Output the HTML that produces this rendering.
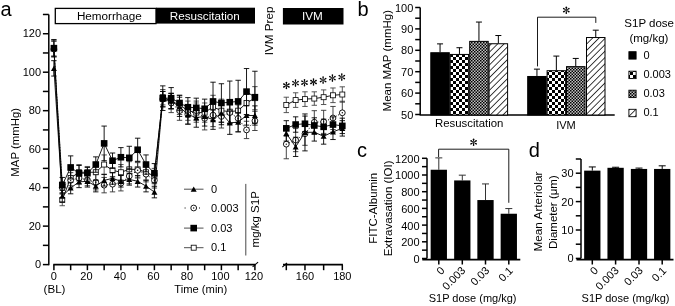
<!DOCTYPE html>
<html><head><meta charset="utf-8"><style>
html,body{margin:0;padding:0;background:#fff;width:675px;height:306px;overflow:hidden}
svg{display:block;font-family:"Liberation Sans", sans-serif;will-change:transform}
</style></head><body>
<svg width="675" height="306" viewBox="0 0 675 306">
<rect width="675" height="306" fill="#fff"/>
<text x="0.50" y="15.80" font-size="20" text-anchor="start" fill="#000" >a</text>
<text x="357.50" y="15.60" font-size="20" text-anchor="start" fill="#000" >b</text>
<text x="357.00" y="156.50" font-size="20" text-anchor="start" fill="#000" >c</text>
<text x="528.80" y="156.50" font-size="20" text-anchor="start" fill="#000" >d</text>
<line x1="48.80" y1="14.48" x2="48.80" y2="265.20" stroke="#000" stroke-width="1.5" />
<line x1="42.90" y1="264.60" x2="48.80" y2="264.60" stroke="#000" stroke-width="1.5" />
<text x="41.00" y="268.20" font-size="11" text-anchor="end" fill="#000" >0</text>
<line x1="42.90" y1="245.36" x2="48.80" y2="245.36" stroke="#000" stroke-width="1.5" />
<line x1="42.90" y1="226.12" x2="48.80" y2="226.12" stroke="#000" stroke-width="1.5" />
<text x="41.00" y="229.72" font-size="11" text-anchor="end" fill="#000" >20</text>
<line x1="42.90" y1="206.88" x2="48.80" y2="206.88" stroke="#000" stroke-width="1.5" />
<line x1="42.90" y1="187.64" x2="48.80" y2="187.64" stroke="#000" stroke-width="1.5" />
<text x="41.00" y="191.24" font-size="11" text-anchor="end" fill="#000" >40</text>
<line x1="42.90" y1="168.40" x2="48.80" y2="168.40" stroke="#000" stroke-width="1.5" />
<line x1="42.90" y1="149.16" x2="48.80" y2="149.16" stroke="#000" stroke-width="1.5" />
<text x="41.00" y="152.76" font-size="11" text-anchor="end" fill="#000" >60</text>
<line x1="42.90" y1="129.92" x2="48.80" y2="129.92" stroke="#000" stroke-width="1.5" />
<line x1="42.90" y1="110.68" x2="48.80" y2="110.68" stroke="#000" stroke-width="1.5" />
<text x="41.00" y="114.28" font-size="11" text-anchor="end" fill="#000" >80</text>
<line x1="42.90" y1="91.44" x2="48.80" y2="91.44" stroke="#000" stroke-width="1.5" />
<line x1="42.90" y1="72.20" x2="48.80" y2="72.20" stroke="#000" stroke-width="1.5" />
<text x="41.00" y="75.80" font-size="11" text-anchor="end" fill="#000" >100</text>
<line x1="42.90" y1="52.96" x2="48.80" y2="52.96" stroke="#000" stroke-width="1.5" />
<line x1="42.90" y1="33.72" x2="48.80" y2="33.72" stroke="#000" stroke-width="1.5" />
<text x="41.00" y="37.32" font-size="11" text-anchor="end" fill="#000" >120</text>
<line x1="42.90" y1="14.48" x2="48.80" y2="14.48" stroke="#000" stroke-width="1.5" />
<text transform="translate(18.6,142.3) rotate(-90)" font-size="11.4" text-anchor="middle">MAP (mmHg)</text>
<line x1="53.30" y1="264.60" x2="255.40" y2="264.60" stroke="#000" stroke-width="1.7" />
<line x1="53.90" y1="264.60" x2="53.90" y2="270.20" stroke="#000" stroke-width="1.5" />
<text x="53.90" y="280.20" font-size="11" text-anchor="middle" fill="#000" >0</text>
<line x1="70.65" y1="264.60" x2="70.65" y2="270.20" stroke="#000" stroke-width="1.5" />
<line x1="87.40" y1="264.60" x2="87.40" y2="270.20" stroke="#000" stroke-width="1.5" />
<text x="86.40" y="280.20" font-size="11" text-anchor="middle" fill="#000" >20</text>
<line x1="104.15" y1="264.60" x2="104.15" y2="270.20" stroke="#000" stroke-width="1.5" />
<line x1="120.90" y1="264.60" x2="120.90" y2="270.20" stroke="#000" stroke-width="1.5" />
<text x="119.90" y="280.20" font-size="11" text-anchor="middle" fill="#000" >40</text>
<line x1="137.65" y1="264.60" x2="137.65" y2="270.20" stroke="#000" stroke-width="1.5" />
<line x1="154.40" y1="264.60" x2="154.40" y2="270.20" stroke="#000" stroke-width="1.5" />
<text x="153.40" y="280.20" font-size="11" text-anchor="middle" fill="#000" >60</text>
<line x1="171.15" y1="264.60" x2="171.15" y2="270.20" stroke="#000" stroke-width="1.5" />
<line x1="187.90" y1="264.60" x2="187.90" y2="270.20" stroke="#000" stroke-width="1.5" />
<text x="186.90" y="280.20" font-size="11" text-anchor="middle" fill="#000" >80</text>
<line x1="204.65" y1="264.60" x2="204.65" y2="270.20" stroke="#000" stroke-width="1.5" />
<line x1="221.40" y1="264.60" x2="221.40" y2="270.20" stroke="#000" stroke-width="1.5" />
<text x="220.40" y="280.20" font-size="11" text-anchor="middle" fill="#000" >100</text>
<line x1="238.15" y1="264.60" x2="238.15" y2="270.20" stroke="#000" stroke-width="1.5" />
<line x1="254.90" y1="264.60" x2="254.90" y2="270.20" stroke="#000" stroke-width="1.5" />
<text x="253.90" y="280.20" font-size="11" text-anchor="middle" fill="#000" >120</text>
<line x1="252.60" y1="266.80" x2="258.10" y2="262.20" stroke="#000" stroke-width="1.1" />
<text x="54.50" y="292.90" font-size="11.6" text-anchor="middle" fill="#000" >(BL)</text>
<text x="200.80" y="292.60" font-size="11.2" text-anchor="middle" fill="#000" >Time (min)</text>
<line x1="283.00" y1="264.60" x2="342.91" y2="264.60" stroke="#000" stroke-width="1.7" />
<line x1="286.30" y1="264.60" x2="286.30" y2="270.20" stroke="#000" stroke-width="1.5" />
<line x1="304.97" y1="264.60" x2="304.97" y2="270.20" stroke="#000" stroke-width="1.5" />
<line x1="323.64" y1="264.60" x2="323.64" y2="270.20" stroke="#000" stroke-width="1.5" />
<line x1="342.31" y1="264.60" x2="342.31" y2="270.20" stroke="#000" stroke-width="1.5" />
<text x="304.97" y="280.20" font-size="11" text-anchor="middle" fill="#000" >160</text>
<text x="342.31" y="280.20" font-size="11" text-anchor="middle" fill="#000" >180</text>
<line x1="282.30" y1="267.20" x2="287.00" y2="263.00" stroke="#000" stroke-width="1.1" />
<rect x="55.30" y="8.40" width="100.70" height="15.20" fill="#fff" stroke="#000" stroke-width="1.3" />
<text x="109.40" y="20.00" font-size="11.7" text-anchor="middle" fill="#000" >Hemorrhage</text>
<rect x="156.00" y="7.70" width="99.00" height="15.90" fill="#000" stroke="none" stroke-width="0" />
<text x="204.80" y="19.60" font-size="11.7" text-anchor="middle" fill="#fff" >Resuscitation</text>
<rect x="282.90" y="8.00" width="60.60" height="16.50" fill="#000" stroke="none" stroke-width="0" />
<text x="312.40" y="20.40" font-size="11.7" text-anchor="middle" fill="#fff" >IVM</text>
<text transform="translate(273.3,30.9) rotate(-90)" font-size="11.7" text-anchor="middle">IVM Prep</text>
<polyline points="53.90,48.15 62.27,199.95 70.65,178.02 79.03,172.25 87.40,172.25 95.78,172.25 104.15,164.55 112.53,170.32 120.90,172.25 129.28,169.36 137.65,169.36 146.03,172.25 154.40,176.10 162.78,97.21 171.15,101.06 179.53,104.91 187.90,110.68 196.28,112.60 204.65,112.60 213.03,106.83 221.40,110.68 229.78,111.64 238.15,110.68 246.53,102.98 254.90,98.17" fill="none" stroke="#000" stroke-width="0.9" />
<polyline points="286.30,104.91 295.63,100.10 304.97,99.14 314.31,98.56 323.64,97.21 332.98,95.29 342.31,94.52" fill="none" stroke="#000" stroke-width="0.9" />
<path d="M53.90,40.45V55.85M51.20,40.45h5.4M51.20,55.85h5.4" stroke="#444" stroke-width="0.9" fill="none"/>
<path d="M62.27,194.18V205.73M59.57,194.18h5.4M59.57,205.73h5.4" stroke="#444" stroke-width="0.9" fill="none"/>
<path d="M70.65,170.32V185.72M67.95,170.32h5.4M67.95,185.72h5.4" stroke="#444" stroke-width="0.9" fill="none"/>
<path d="M79.03,164.55V179.94M76.33,164.55h5.4M76.33,179.94h5.4" stroke="#444" stroke-width="0.9" fill="none"/>
<path d="M87.40,166.48V178.02M84.70,166.48h5.4M84.70,178.02h5.4" stroke="#444" stroke-width="0.9" fill="none"/>
<path d="M95.78,164.55V179.94M93.08,164.55h5.4M93.08,179.94h5.4" stroke="#444" stroke-width="0.9" fill="none"/>
<path d="M104.15,154.93V174.17M101.45,154.93h5.4M101.45,174.17h5.4" stroke="#444" stroke-width="0.9" fill="none"/>
<path d="M112.53,162.63V178.02M109.83,162.63h5.4M109.83,178.02h5.4" stroke="#444" stroke-width="0.9" fill="none"/>
<path d="M120.90,164.55V179.94M118.20,164.55h5.4M118.20,179.94h5.4" stroke="#444" stroke-width="0.9" fill="none"/>
<path d="M129.28,161.67V177.06M126.58,161.67h5.4M126.58,177.06h5.4" stroke="#444" stroke-width="0.9" fill="none"/>
<path d="M137.65,161.67V177.06M134.95,161.67h5.4M134.95,177.06h5.4" stroke="#444" stroke-width="0.9" fill="none"/>
<path d="M146.03,164.55V179.94M143.33,164.55h5.4M143.33,179.94h5.4" stroke="#444" stroke-width="0.9" fill="none"/>
<path d="M154.40,168.40V183.79M151.70,168.40h5.4M151.70,183.79h5.4" stroke="#444" stroke-width="0.9" fill="none"/>
<path d="M162.78,89.52V104.91M160.08,89.52h5.4M160.08,104.91h5.4" stroke="#444" stroke-width="0.9" fill="none"/>
<path d="M171.15,93.36V108.76M168.45,93.36h5.4M168.45,108.76h5.4" stroke="#444" stroke-width="0.9" fill="none"/>
<path d="M179.53,95.29V114.53M176.83,95.29h5.4M176.83,114.53h5.4" stroke="#444" stroke-width="0.9" fill="none"/>
<path d="M187.90,101.06V120.30M185.20,101.06h5.4M185.20,120.30h5.4" stroke="#444" stroke-width="0.9" fill="none"/>
<path d="M196.28,102.98V122.22M193.58,102.98h5.4M193.58,122.22h5.4" stroke="#444" stroke-width="0.9" fill="none"/>
<path d="M204.65,102.98V122.22M201.95,102.98h5.4M201.95,122.22h5.4" stroke="#444" stroke-width="0.9" fill="none"/>
<path d="M213.03,95.29V118.38M210.33,95.29h5.4M210.33,118.38h5.4" stroke="#444" stroke-width="0.9" fill="none"/>
<path d="M221.40,99.14V122.22M218.70,99.14h5.4M218.70,122.22h5.4" stroke="#444" stroke-width="0.9" fill="none"/>
<path d="M229.78,100.10V123.19M227.08,100.10h5.4M227.08,123.19h5.4" stroke="#444" stroke-width="0.9" fill="none"/>
<path d="M238.15,99.14V122.22M235.45,99.14h5.4M235.45,122.22h5.4" stroke="#444" stroke-width="0.9" fill="none"/>
<path d="M246.53,91.44V114.53M243.83,91.44h5.4M243.83,114.53h5.4" stroke="#444" stroke-width="0.9" fill="none"/>
<path d="M254.90,86.63V109.72M252.20,86.63h5.4M252.20,109.72h5.4" stroke="#444" stroke-width="0.9" fill="none"/>
<path d="M286.30,97.21V112.60M283.60,97.21h5.4M283.60,112.60h5.4" stroke="#444" stroke-width="0.9" fill="none"/>
<path d="M295.63,92.79V107.41M292.94,92.79h5.4M292.94,107.41h5.4" stroke="#444" stroke-width="0.9" fill="none"/>
<path d="M304.97,91.82V106.45M302.27,91.82h5.4M302.27,106.45h5.4" stroke="#444" stroke-width="0.9" fill="none"/>
<path d="M314.31,91.82V105.29M311.61,91.82h5.4M311.61,105.29h5.4" stroke="#444" stroke-width="0.9" fill="none"/>
<path d="M323.64,89.90V104.52M320.94,89.90h5.4M320.94,104.52h5.4" stroke="#444" stroke-width="0.9" fill="none"/>
<path d="M332.98,87.98V102.60M330.28,87.98h5.4M330.28,102.60h5.4" stroke="#444" stroke-width="0.9" fill="none"/>
<path d="M342.31,86.82V102.21M339.61,86.82h5.4M339.61,102.21h5.4" stroke="#444" stroke-width="0.9" fill="none"/>
<rect x="51.40" y="45.65" width="5.0" height="5.0" fill="#fff" stroke="#000" stroke-width="0.8"/>
<rect x="59.77" y="197.45" width="5.0" height="5.0" fill="#fff" stroke="#000" stroke-width="0.8"/>
<rect x="68.15" y="175.52" width="5.0" height="5.0" fill="#fff" stroke="#000" stroke-width="0.8"/>
<rect x="76.53" y="169.75" width="5.0" height="5.0" fill="#fff" stroke="#000" stroke-width="0.8"/>
<rect x="84.90" y="169.75" width="5.0" height="5.0" fill="#fff" stroke="#000" stroke-width="0.8"/>
<rect x="93.28" y="169.75" width="5.0" height="5.0" fill="#fff" stroke="#000" stroke-width="0.8"/>
<rect x="101.65" y="162.05" width="5.0" height="5.0" fill="#fff" stroke="#000" stroke-width="0.8"/>
<rect x="110.03" y="167.82" width="5.0" height="5.0" fill="#fff" stroke="#000" stroke-width="0.8"/>
<rect x="118.40" y="169.75" width="5.0" height="5.0" fill="#fff" stroke="#000" stroke-width="0.8"/>
<rect x="126.78" y="166.86" width="5.0" height="5.0" fill="#fff" stroke="#000" stroke-width="0.8"/>
<rect x="135.15" y="166.86" width="5.0" height="5.0" fill="#fff" stroke="#000" stroke-width="0.8"/>
<rect x="143.53" y="169.75" width="5.0" height="5.0" fill="#fff" stroke="#000" stroke-width="0.8"/>
<rect x="151.90" y="173.60" width="5.0" height="5.0" fill="#fff" stroke="#000" stroke-width="0.8"/>
<rect x="160.28" y="94.71" width="5.0" height="5.0" fill="#fff" stroke="#000" stroke-width="0.8"/>
<rect x="168.65" y="98.56" width="5.0" height="5.0" fill="#fff" stroke="#000" stroke-width="0.8"/>
<rect x="177.03" y="102.41" width="5.0" height="5.0" fill="#fff" stroke="#000" stroke-width="0.8"/>
<rect x="185.40" y="108.18" width="5.0" height="5.0" fill="#fff" stroke="#000" stroke-width="0.8"/>
<rect x="193.78" y="110.10" width="5.0" height="5.0" fill="#fff" stroke="#000" stroke-width="0.8"/>
<rect x="202.15" y="110.10" width="5.0" height="5.0" fill="#fff" stroke="#000" stroke-width="0.8"/>
<rect x="210.53" y="104.33" width="5.0" height="5.0" fill="#fff" stroke="#000" stroke-width="0.8"/>
<rect x="218.90" y="108.18" width="5.0" height="5.0" fill="#fff" stroke="#000" stroke-width="0.8"/>
<rect x="227.28" y="109.14" width="5.0" height="5.0" fill="#fff" stroke="#000" stroke-width="0.8"/>
<rect x="235.65" y="108.18" width="5.0" height="5.0" fill="#fff" stroke="#000" stroke-width="0.8"/>
<rect x="244.03" y="100.48" width="5.0" height="5.0" fill="#fff" stroke="#000" stroke-width="0.8"/>
<rect x="252.40" y="95.67" width="5.0" height="5.0" fill="#fff" stroke="#000" stroke-width="0.8"/>
<rect x="283.80" y="102.41" width="5.0" height="5.0" fill="#fff" stroke="#000" stroke-width="0.8"/>
<rect x="293.13" y="97.60" width="5.0" height="5.0" fill="#fff" stroke="#000" stroke-width="0.8"/>
<rect x="302.47" y="96.64" width="5.0" height="5.0" fill="#fff" stroke="#000" stroke-width="0.8"/>
<rect x="311.81" y="96.06" width="5.0" height="5.0" fill="#fff" stroke="#000" stroke-width="0.8"/>
<rect x="321.14" y="94.71" width="5.0" height="5.0" fill="#fff" stroke="#000" stroke-width="0.8"/>
<rect x="330.48" y="92.79" width="5.0" height="5.0" fill="#fff" stroke="#000" stroke-width="0.8"/>
<rect x="339.81" y="92.02" width="5.0" height="5.0" fill="#fff" stroke="#000" stroke-width="0.8"/>
<polyline points="53.90,49.11 62.27,187.64 70.65,180.33 79.03,178.02 87.40,179.94 95.78,182.25 104.15,185.14 112.53,184.18 120.90,183.21 129.28,176.10 137.65,170.32 146.03,174.17 154.40,180.33 162.78,99.14 171.15,102.98 179.53,110.68 187.90,114.53 196.28,110.68 204.65,118.38 213.03,115.11 221.40,116.45 229.78,112.60 238.15,118.38 246.53,129.92 254.90,120.88" fill="none" stroke="#000" stroke-width="0.9" stroke-dasharray="1.2,1.6"/>
<polyline points="286.30,144.16 295.63,140.12 304.97,133.77 314.31,122.22 323.64,121.84 332.98,117.99 342.31,112.80" fill="none" stroke="#000" stroke-width="0.9" stroke-dasharray="1.2,1.6"/>
<path d="M53.90,41.42V56.81M51.20,41.42h5.4M51.20,56.81h5.4" stroke="#333" stroke-width="0.9" fill="none"/>
<path d="M62.27,181.87V193.41M59.57,181.87h5.4M59.57,193.41h5.4" stroke="#333" stroke-width="0.9" fill="none"/>
<path d="M70.65,172.63V188.02M67.95,172.63h5.4M67.95,188.02h5.4" stroke="#333" stroke-width="0.9" fill="none"/>
<path d="M79.03,172.25V183.79M76.33,172.25h5.4M76.33,183.79h5.4" stroke="#333" stroke-width="0.9" fill="none"/>
<path d="M87.40,174.17V185.72M84.70,174.17h5.4M84.70,185.72h5.4" stroke="#333" stroke-width="0.9" fill="none"/>
<path d="M95.78,174.56V189.95M93.08,174.56h5.4M93.08,189.95h5.4" stroke="#333" stroke-width="0.9" fill="none"/>
<path d="M104.15,177.44V192.83M101.45,177.44h5.4M101.45,192.83h5.4" stroke="#333" stroke-width="0.9" fill="none"/>
<path d="M112.53,176.48V191.87M109.83,176.48h5.4M109.83,191.87h5.4" stroke="#333" stroke-width="0.9" fill="none"/>
<path d="M120.90,175.52V190.91M118.20,175.52h5.4M118.20,190.91h5.4" stroke="#333" stroke-width="0.9" fill="none"/>
<path d="M129.28,168.40V183.79M126.58,168.40h5.4M126.58,183.79h5.4" stroke="#333" stroke-width="0.9" fill="none"/>
<path d="M137.65,162.63V178.02M134.95,162.63h5.4M134.95,178.02h5.4" stroke="#333" stroke-width="0.9" fill="none"/>
<path d="M146.03,166.48V181.87M143.33,166.48h5.4M143.33,181.87h5.4" stroke="#333" stroke-width="0.9" fill="none"/>
<path d="M154.40,172.63V188.02M151.70,172.63h5.4M151.70,188.02h5.4" stroke="#333" stroke-width="0.9" fill="none"/>
<path d="M162.78,91.44V106.83M160.08,91.44h5.4M160.08,106.83h5.4" stroke="#333" stroke-width="0.9" fill="none"/>
<path d="M171.15,93.36V112.60M168.45,93.36h5.4M168.45,112.60h5.4" stroke="#333" stroke-width="0.9" fill="none"/>
<path d="M179.53,101.06V120.30M176.83,101.06h5.4M176.83,120.30h5.4" stroke="#333" stroke-width="0.9" fill="none"/>
<path d="M187.90,104.91V124.15M185.20,104.91h5.4M185.20,124.15h5.4" stroke="#333" stroke-width="0.9" fill="none"/>
<path d="M196.28,101.06V120.30M193.58,101.06h5.4M193.58,120.30h5.4" stroke="#333" stroke-width="0.9" fill="none"/>
<path d="M204.65,106.83V129.92M201.95,106.83h5.4M201.95,129.92h5.4" stroke="#333" stroke-width="0.9" fill="none"/>
<path d="M213.03,103.56V126.65M210.33,103.56h5.4M210.33,126.65h5.4" stroke="#333" stroke-width="0.9" fill="none"/>
<path d="M221.40,104.91V128.00M218.70,104.91h5.4M218.70,128.00h5.4" stroke="#333" stroke-width="0.9" fill="none"/>
<path d="M229.78,101.06V124.15M227.08,101.06h5.4M227.08,124.15h5.4" stroke="#333" stroke-width="0.9" fill="none"/>
<path d="M238.15,104.91V131.84M235.45,104.91h5.4M235.45,131.84h5.4" stroke="#333" stroke-width="0.9" fill="none"/>
<path d="M246.53,121.26V138.58M243.83,121.26h5.4M243.83,138.58h5.4" stroke="#333" stroke-width="0.9" fill="none"/>
<path d="M254.90,111.26V130.50M252.20,111.26h5.4M252.20,130.50h5.4" stroke="#333" stroke-width="0.9" fill="none"/>
<path d="M286.30,129.54V158.78M283.60,129.54h5.4M283.60,158.78h5.4" stroke="#333" stroke-width="0.9" fill="none"/>
<path d="M295.63,128.57V151.66M292.94,128.57h5.4M292.94,151.66h5.4" stroke="#333" stroke-width="0.9" fill="none"/>
<path d="M304.97,122.22V145.31M302.27,122.22h5.4M302.27,145.31h5.4" stroke="#333" stroke-width="0.9" fill="none"/>
<path d="M314.31,110.68V133.77M311.61,110.68h5.4M311.61,133.77h5.4" stroke="#333" stroke-width="0.9" fill="none"/>
<path d="M323.64,110.30V133.38M320.94,110.30h5.4M320.94,133.38h5.4" stroke="#333" stroke-width="0.9" fill="none"/>
<path d="M332.98,106.45V129.54M330.28,106.45h5.4M330.28,129.54h5.4" stroke="#333" stroke-width="0.9" fill="none"/>
<path d="M342.31,101.25V124.34M339.61,101.25h5.4M339.61,124.34h5.4" stroke="#333" stroke-width="0.9" fill="none"/>
<circle cx="53.90" cy="49.11" r="2.9" fill="#fff" stroke="#000" stroke-width="0.9"/><circle cx="53.90" cy="49.11" r="0.7" fill="#000"/>
<circle cx="62.27" cy="187.64" r="2.9" fill="#fff" stroke="#000" stroke-width="0.9"/><circle cx="62.27" cy="187.64" r="0.7" fill="#000"/>
<circle cx="70.65" cy="180.33" r="2.9" fill="#fff" stroke="#000" stroke-width="0.9"/><circle cx="70.65" cy="180.33" r="0.7" fill="#000"/>
<circle cx="79.03" cy="178.02" r="2.9" fill="#fff" stroke="#000" stroke-width="0.9"/><circle cx="79.03" cy="178.02" r="0.7" fill="#000"/>
<circle cx="87.40" cy="179.94" r="2.9" fill="#fff" stroke="#000" stroke-width="0.9"/><circle cx="87.40" cy="179.94" r="0.7" fill="#000"/>
<circle cx="95.78" cy="182.25" r="2.9" fill="#fff" stroke="#000" stroke-width="0.9"/><circle cx="95.78" cy="182.25" r="0.7" fill="#000"/>
<circle cx="104.15" cy="185.14" r="2.9" fill="#fff" stroke="#000" stroke-width="0.9"/><circle cx="104.15" cy="185.14" r="0.7" fill="#000"/>
<circle cx="112.53" cy="184.18" r="2.9" fill="#fff" stroke="#000" stroke-width="0.9"/><circle cx="112.53" cy="184.18" r="0.7" fill="#000"/>
<circle cx="120.90" cy="183.21" r="2.9" fill="#fff" stroke="#000" stroke-width="0.9"/><circle cx="120.90" cy="183.21" r="0.7" fill="#000"/>
<circle cx="129.28" cy="176.10" r="2.9" fill="#fff" stroke="#000" stroke-width="0.9"/><circle cx="129.28" cy="176.10" r="0.7" fill="#000"/>
<circle cx="137.65" cy="170.32" r="2.9" fill="#fff" stroke="#000" stroke-width="0.9"/><circle cx="137.65" cy="170.32" r="0.7" fill="#000"/>
<circle cx="146.03" cy="174.17" r="2.9" fill="#fff" stroke="#000" stroke-width="0.9"/><circle cx="146.03" cy="174.17" r="0.7" fill="#000"/>
<circle cx="154.40" cy="180.33" r="2.9" fill="#fff" stroke="#000" stroke-width="0.9"/><circle cx="154.40" cy="180.33" r="0.7" fill="#000"/>
<circle cx="162.78" cy="99.14" r="2.9" fill="#fff" stroke="#000" stroke-width="0.9"/><circle cx="162.78" cy="99.14" r="0.7" fill="#000"/>
<circle cx="171.15" cy="102.98" r="2.9" fill="#fff" stroke="#000" stroke-width="0.9"/><circle cx="171.15" cy="102.98" r="0.7" fill="#000"/>
<circle cx="179.53" cy="110.68" r="2.9" fill="#fff" stroke="#000" stroke-width="0.9"/><circle cx="179.53" cy="110.68" r="0.7" fill="#000"/>
<circle cx="187.90" cy="114.53" r="2.9" fill="#fff" stroke="#000" stroke-width="0.9"/><circle cx="187.90" cy="114.53" r="0.7" fill="#000"/>
<circle cx="196.28" cy="110.68" r="2.9" fill="#fff" stroke="#000" stroke-width="0.9"/><circle cx="196.28" cy="110.68" r="0.7" fill="#000"/>
<circle cx="204.65" cy="118.38" r="2.9" fill="#fff" stroke="#000" stroke-width="0.9"/><circle cx="204.65" cy="118.38" r="0.7" fill="#000"/>
<circle cx="213.03" cy="115.11" r="2.9" fill="#fff" stroke="#000" stroke-width="0.9"/><circle cx="213.03" cy="115.11" r="0.7" fill="#000"/>
<circle cx="221.40" cy="116.45" r="2.9" fill="#fff" stroke="#000" stroke-width="0.9"/><circle cx="221.40" cy="116.45" r="0.7" fill="#000"/>
<circle cx="229.78" cy="112.60" r="2.9" fill="#fff" stroke="#000" stroke-width="0.9"/><circle cx="229.78" cy="112.60" r="0.7" fill="#000"/>
<circle cx="238.15" cy="118.38" r="2.9" fill="#fff" stroke="#000" stroke-width="0.9"/><circle cx="238.15" cy="118.38" r="0.7" fill="#000"/>
<circle cx="246.53" cy="129.92" r="2.9" fill="#fff" stroke="#000" stroke-width="0.9"/><circle cx="246.53" cy="129.92" r="0.7" fill="#000"/>
<circle cx="254.90" cy="120.88" r="2.9" fill="#fff" stroke="#000" stroke-width="0.9"/><circle cx="254.90" cy="120.88" r="0.7" fill="#000"/>
<circle cx="286.30" cy="144.16" r="2.9" fill="#fff" stroke="#000" stroke-width="0.9"/><circle cx="286.30" cy="144.16" r="0.7" fill="#000"/>
<circle cx="295.63" cy="140.12" r="2.9" fill="#fff" stroke="#000" stroke-width="0.9"/><circle cx="295.63" cy="140.12" r="0.7" fill="#000"/>
<circle cx="304.97" cy="133.77" r="2.9" fill="#fff" stroke="#000" stroke-width="0.9"/><circle cx="304.97" cy="133.77" r="0.7" fill="#000"/>
<circle cx="314.31" cy="122.22" r="2.9" fill="#fff" stroke="#000" stroke-width="0.9"/><circle cx="314.31" cy="122.22" r="0.7" fill="#000"/>
<circle cx="323.64" cy="121.84" r="2.9" fill="#fff" stroke="#000" stroke-width="0.9"/><circle cx="323.64" cy="121.84" r="0.7" fill="#000"/>
<circle cx="332.98" cy="117.99" r="2.9" fill="#fff" stroke="#000" stroke-width="0.9"/><circle cx="332.98" cy="117.99" r="0.7" fill="#000"/>
<circle cx="342.31" cy="112.80" r="2.9" fill="#fff" stroke="#000" stroke-width="0.9"/><circle cx="342.31" cy="112.80" r="0.7" fill="#000"/>
<polyline points="53.90,68.35 62.27,196.11 70.65,188.02 79.03,181.87 87.40,181.29 95.78,186.10 104.15,180.33 112.53,178.40 120.90,181.29 129.28,179.37 137.65,181.29 146.03,186.10 154.40,192.07 162.78,99.14 171.15,101.06 179.53,106.83 187.90,114.53 196.28,117.61 204.65,116.45 213.03,119.72 221.40,113.18 229.78,122.80 238.15,122.22 246.53,115.49 254.90,115.49" fill="none" stroke="#000" stroke-width="0.9" />
<polyline points="286.30,133.38 295.63,146.85 304.97,132.42 314.31,132.23 323.64,136.27 332.98,131.84 342.31,128.38" fill="none" stroke="#000" stroke-width="0.9" />
<path d="M53.90,60.66V76.05M51.20,60.66h5.4M51.20,76.05h5.4" stroke="#000" stroke-width="0.9" fill="none"/>
<path d="M62.27,190.33V201.88M59.57,190.33h5.4M59.57,201.88h5.4" stroke="#000" stroke-width="0.9" fill="none"/>
<path d="M70.65,182.25V193.80M67.95,182.25h5.4M67.95,193.80h5.4" stroke="#000" stroke-width="0.9" fill="none"/>
<path d="M79.03,176.10V187.64M76.33,176.10h5.4M76.33,187.64h5.4" stroke="#000" stroke-width="0.9" fill="none"/>
<path d="M87.40,175.52V187.06M84.70,175.52h5.4M84.70,187.06h5.4" stroke="#000" stroke-width="0.9" fill="none"/>
<path d="M95.78,180.33V191.87M93.08,180.33h5.4M93.08,191.87h5.4" stroke="#000" stroke-width="0.9" fill="none"/>
<path d="M104.15,174.56V186.10M101.45,174.56h5.4M101.45,186.10h5.4" stroke="#000" stroke-width="0.9" fill="none"/>
<path d="M112.53,172.63V184.18M109.83,172.63h5.4M109.83,184.18h5.4" stroke="#000" stroke-width="0.9" fill="none"/>
<path d="M120.90,175.52V187.06M118.20,175.52h5.4M118.20,187.06h5.4" stroke="#000" stroke-width="0.9" fill="none"/>
<path d="M129.28,173.59V185.14M126.58,173.59h5.4M126.58,185.14h5.4" stroke="#000" stroke-width="0.9" fill="none"/>
<path d="M137.65,175.52V187.06M134.95,175.52h5.4M134.95,187.06h5.4" stroke="#000" stroke-width="0.9" fill="none"/>
<path d="M146.03,180.33V191.87M143.33,180.33h5.4M143.33,191.87h5.4" stroke="#000" stroke-width="0.9" fill="none"/>
<path d="M154.40,186.29V197.84M151.70,186.29h5.4M151.70,197.84h5.4" stroke="#000" stroke-width="0.9" fill="none"/>
<path d="M162.78,91.44V106.83M160.08,91.44h5.4M160.08,106.83h5.4" stroke="#000" stroke-width="0.9" fill="none"/>
<path d="M171.15,93.36V108.76M168.45,93.36h5.4M168.45,108.76h5.4" stroke="#000" stroke-width="0.9" fill="none"/>
<path d="M179.53,97.21V116.45M176.83,97.21h5.4M176.83,116.45h5.4" stroke="#000" stroke-width="0.9" fill="none"/>
<path d="M187.90,104.91V124.15M185.20,104.91h5.4M185.20,124.15h5.4" stroke="#000" stroke-width="0.9" fill="none"/>
<path d="M196.28,107.99V127.23M193.58,107.99h5.4M193.58,127.23h5.4" stroke="#000" stroke-width="0.9" fill="none"/>
<path d="M204.65,106.83V126.07M201.95,106.83h5.4M201.95,126.07h5.4" stroke="#000" stroke-width="0.9" fill="none"/>
<path d="M213.03,110.10V129.34M210.33,110.10h5.4M210.33,129.34h5.4" stroke="#000" stroke-width="0.9" fill="none"/>
<path d="M221.40,101.64V124.73M218.70,101.64h5.4M218.70,124.73h5.4" stroke="#000" stroke-width="0.9" fill="none"/>
<path d="M229.78,111.26V134.35M227.08,111.26h5.4M227.08,134.35h5.4" stroke="#000" stroke-width="0.9" fill="none"/>
<path d="M238.15,112.60V131.84M235.45,112.60h5.4M235.45,131.84h5.4" stroke="#000" stroke-width="0.9" fill="none"/>
<path d="M246.53,105.87V125.11M243.83,105.87h5.4M243.83,125.11h5.4" stroke="#000" stroke-width="0.9" fill="none"/>
<path d="M254.90,105.87V125.11M252.20,105.87h5.4M252.20,125.11h5.4" stroke="#000" stroke-width="0.9" fill="none"/>
<path d="M286.30,125.69V141.08M283.60,125.69h5.4M283.60,141.08h5.4" stroke="#000" stroke-width="0.9" fill="none"/>
<path d="M295.63,137.23V156.47M292.94,137.23h5.4M292.94,156.47h5.4" stroke="#000" stroke-width="0.9" fill="none"/>
<path d="M304.97,113.95V150.89M302.27,113.95h5.4M302.27,150.89h5.4" stroke="#000" stroke-width="0.9" fill="none"/>
<path d="M314.31,123.38V141.08M311.61,123.38h5.4M311.61,141.08h5.4" stroke="#000" stroke-width="0.9" fill="none"/>
<path d="M323.64,128.38V144.16M320.94,128.38h5.4M320.94,144.16h5.4" stroke="#000" stroke-width="0.9" fill="none"/>
<path d="M332.98,124.15V139.54M330.28,124.15h5.4M330.28,139.54h5.4" stroke="#000" stroke-width="0.9" fill="none"/>
<path d="M342.31,120.68V136.08M339.61,120.68h5.4M339.61,136.08h5.4" stroke="#000" stroke-width="0.9" fill="none"/>
<path d="M53.90,65.65L56.90,70.95H50.90Z" fill="#000"/>
<path d="M62.27,193.41L65.28,198.71H59.27Z" fill="#000"/>
<path d="M70.65,185.32L73.65,190.62H67.65Z" fill="#000"/>
<path d="M79.03,179.17L82.03,184.47H76.03Z" fill="#000"/>
<path d="M87.40,178.59L90.40,183.89H84.40Z" fill="#000"/>
<path d="M95.78,183.40L98.78,188.70H92.78Z" fill="#000"/>
<path d="M104.15,177.63L107.15,182.93H101.15Z" fill="#000"/>
<path d="M112.53,175.70L115.53,181.00H109.53Z" fill="#000"/>
<path d="M120.90,178.59L123.90,183.89H117.90Z" fill="#000"/>
<path d="M129.28,176.67L132.28,181.97H126.28Z" fill="#000"/>
<path d="M137.65,178.59L140.65,183.89H134.65Z" fill="#000"/>
<path d="M146.03,183.40L149.03,188.70H143.03Z" fill="#000"/>
<path d="M154.40,189.37L157.40,194.67H151.40Z" fill="#000"/>
<path d="M162.78,96.44L165.78,101.74H159.78Z" fill="#000"/>
<path d="M171.15,98.36L174.15,103.66H168.15Z" fill="#000"/>
<path d="M179.53,104.13L182.53,109.43H176.53Z" fill="#000"/>
<path d="M187.90,111.83L190.90,117.13H184.90Z" fill="#000"/>
<path d="M196.28,114.91L199.28,120.21H193.28Z" fill="#000"/>
<path d="M204.65,113.75L207.65,119.05H201.65Z" fill="#000"/>
<path d="M213.03,117.02L216.03,122.32H210.03Z" fill="#000"/>
<path d="M221.40,110.48L224.40,115.78H218.40Z" fill="#000"/>
<path d="M229.78,120.10L232.78,125.40H226.78Z" fill="#000"/>
<path d="M238.15,119.52L241.15,124.82H235.15Z" fill="#000"/>
<path d="M246.53,112.79L249.53,118.09H243.53Z" fill="#000"/>
<path d="M254.90,112.79L257.90,118.09H251.90Z" fill="#000"/>
<path d="M286.30,130.68L289.30,135.98H283.30Z" fill="#000"/>
<path d="M295.63,144.15L298.63,149.45H292.63Z" fill="#000"/>
<path d="M304.97,129.72L307.97,135.02H301.97Z" fill="#000"/>
<path d="M314.31,129.53L317.31,134.83H311.31Z" fill="#000"/>
<path d="M323.64,133.57L326.64,138.87H320.64Z" fill="#000"/>
<path d="M332.98,129.14L335.98,134.44H329.98Z" fill="#000"/>
<path d="M342.31,125.68L345.31,130.98H339.31Z" fill="#000"/>
<polyline points="53.90,48.15 62.27,185.14 70.65,167.44 79.03,173.21 87.40,173.21 95.78,164.55 104.15,143.39 112.53,160.70 120.90,157.24 129.28,157.82 137.65,149.74 146.03,164.55 154.40,173.21 162.78,98.17 171.15,98.17 179.53,102.98 187.90,107.22 196.28,107.79 204.65,108.76 213.03,101.44 221.40,102.98 229.78,102.21 238.15,101.44 246.53,91.63 254.90,97.21" fill="none" stroke="#000" stroke-width="0.9" />
<polyline points="286.30,128.38 295.63,124.53 304.97,123.76 314.31,125.49 323.64,126.84 332.98,124.53 342.31,125.88" fill="none" stroke="#000" stroke-width="0.9" />
<path d="M53.90,39.49V56.81M51.20,39.49h5.4M51.20,56.81h5.4" stroke="#000" stroke-width="0.9" fill="none"/>
<path d="M62.27,177.44V192.83M59.57,177.44h5.4M59.57,192.83h5.4" stroke="#000" stroke-width="0.9" fill="none"/>
<path d="M70.65,155.89V178.98M67.95,155.89h5.4M67.95,178.98h5.4" stroke="#000" stroke-width="0.9" fill="none"/>
<path d="M79.03,165.51V180.91M76.33,165.51h5.4M76.33,180.91h5.4" stroke="#000" stroke-width="0.9" fill="none"/>
<path d="M87.40,167.44V178.98M84.70,167.44h5.4M84.70,178.98h5.4" stroke="#000" stroke-width="0.9" fill="none"/>
<path d="M95.78,156.86V172.25M93.08,156.86h5.4M93.08,172.25h5.4" stroke="#000" stroke-width="0.9" fill="none"/>
<path d="M104.15,126.07V160.70M101.45,126.07h5.4M101.45,160.70h5.4" stroke="#000" stroke-width="0.9" fill="none"/>
<path d="M112.53,153.01V168.40M109.83,153.01h5.4M109.83,168.40h5.4" stroke="#000" stroke-width="0.9" fill="none"/>
<path d="M120.90,147.62V166.86M118.20,147.62h5.4M118.20,166.86h5.4" stroke="#000" stroke-width="0.9" fill="none"/>
<path d="M129.28,146.27V169.36M126.58,146.27h5.4M126.58,169.36h5.4" stroke="#000" stroke-width="0.9" fill="none"/>
<path d="M137.65,138.19V161.28M134.95,138.19h5.4M134.95,161.28h5.4" stroke="#000" stroke-width="0.9" fill="none"/>
<path d="M146.03,154.93V174.17M143.33,154.93h5.4M143.33,174.17h5.4" stroke="#000" stroke-width="0.9" fill="none"/>
<path d="M154.40,163.59V182.83M151.70,163.59h5.4M151.70,182.83h5.4" stroke="#000" stroke-width="0.9" fill="none"/>
<path d="M162.78,85.86V110.49M160.08,85.86h5.4M160.08,110.49h5.4" stroke="#000" stroke-width="0.9" fill="none"/>
<path d="M171.15,87.59V108.76M168.45,87.59h5.4M168.45,108.76h5.4" stroke="#000" stroke-width="0.9" fill="none"/>
<path d="M179.53,95.29V110.68M176.83,95.29h5.4M176.83,110.68h5.4" stroke="#000" stroke-width="0.9" fill="none"/>
<path d="M187.90,97.60V116.84M185.20,97.60h5.4M185.20,116.84h5.4" stroke="#000" stroke-width="0.9" fill="none"/>
<path d="M196.28,98.17V117.41M193.58,98.17h5.4M193.58,117.41h5.4" stroke="#000" stroke-width="0.9" fill="none"/>
<path d="M204.65,99.14V118.38M201.95,99.14h5.4M201.95,118.38h5.4" stroke="#000" stroke-width="0.9" fill="none"/>
<path d="M213.03,82.20V120.68M210.33,82.20h5.4M210.33,120.68h5.4" stroke="#000" stroke-width="0.9" fill="none"/>
<path d="M221.40,83.74V122.22M218.70,83.74h5.4M218.70,122.22h5.4" stroke="#000" stroke-width="0.9" fill="none"/>
<path d="M229.78,81.05V123.38M227.08,81.05h5.4M227.08,123.38h5.4" stroke="#000" stroke-width="0.9" fill="none"/>
<path d="M238.15,80.28V122.61M235.45,80.28h5.4M235.45,122.61h5.4" stroke="#000" stroke-width="0.9" fill="none"/>
<path d="M246.53,68.54V114.72M243.83,68.54h5.4M243.83,114.72h5.4" stroke="#000" stroke-width="0.9" fill="none"/>
<path d="M254.90,71.24V123.19M252.20,71.24h5.4M252.20,123.19h5.4" stroke="#000" stroke-width="0.9" fill="none"/>
<path d="M286.30,120.68V136.08M283.60,120.68h5.4M283.60,136.08h5.4" stroke="#000" stroke-width="0.9" fill="none"/>
<path d="M295.63,116.84V132.23M292.94,116.84h5.4M292.94,132.23h5.4" stroke="#000" stroke-width="0.9" fill="none"/>
<path d="M304.97,116.07V131.46M302.27,116.07h5.4M302.27,131.46h5.4" stroke="#000" stroke-width="0.9" fill="none"/>
<path d="M314.31,117.80V133.19M311.61,117.80h5.4M311.61,133.19h5.4" stroke="#000" stroke-width="0.9" fill="none"/>
<path d="M323.64,119.15V134.54M320.94,119.15h5.4M320.94,134.54h5.4" stroke="#000" stroke-width="0.9" fill="none"/>
<path d="M332.98,116.84V132.23M330.28,116.84h5.4M330.28,132.23h5.4" stroke="#000" stroke-width="0.9" fill="none"/>
<path d="M342.31,118.18V133.58M339.61,118.18h5.4M339.61,133.58h5.4" stroke="#000" stroke-width="0.9" fill="none"/>
<rect x="50.60" y="44.85" width="6.6" height="6.6" fill="#000"/>
<rect x="58.98" y="181.84" width="6.6" height="6.6" fill="#000"/>
<rect x="67.35" y="164.14" width="6.6" height="6.6" fill="#000"/>
<rect x="75.73" y="169.91" width="6.6" height="6.6" fill="#000"/>
<rect x="84.10" y="169.91" width="6.6" height="6.6" fill="#000"/>
<rect x="92.48" y="161.25" width="6.6" height="6.6" fill="#000"/>
<rect x="100.85" y="140.09" width="6.6" height="6.6" fill="#000"/>
<rect x="109.23" y="157.40" width="6.6" height="6.6" fill="#000"/>
<rect x="117.60" y="153.94" width="6.6" height="6.6" fill="#000"/>
<rect x="125.98" y="154.52" width="6.6" height="6.6" fill="#000"/>
<rect x="134.35" y="146.44" width="6.6" height="6.6" fill="#000"/>
<rect x="142.72" y="161.25" width="6.6" height="6.6" fill="#000"/>
<rect x="151.10" y="169.91" width="6.6" height="6.6" fill="#000"/>
<rect x="159.47" y="94.87" width="6.6" height="6.6" fill="#000"/>
<rect x="167.85" y="94.87" width="6.6" height="6.6" fill="#000"/>
<rect x="176.22" y="99.68" width="6.6" height="6.6" fill="#000"/>
<rect x="184.60" y="103.92" width="6.6" height="6.6" fill="#000"/>
<rect x="192.97" y="104.49" width="6.6" height="6.6" fill="#000"/>
<rect x="201.35" y="105.46" width="6.6" height="6.6" fill="#000"/>
<rect x="209.72" y="98.14" width="6.6" height="6.6" fill="#000"/>
<rect x="218.10" y="99.68" width="6.6" height="6.6" fill="#000"/>
<rect x="226.47" y="98.91" width="6.6" height="6.6" fill="#000"/>
<rect x="234.85" y="98.14" width="6.6" height="6.6" fill="#000"/>
<rect x="243.22" y="88.33" width="6.6" height="6.6" fill="#000"/>
<rect x="251.60" y="93.91" width="6.6" height="6.6" fill="#000"/>
<rect x="283.00" y="125.08" width="6.6" height="6.6" fill="#000"/>
<rect x="292.33" y="121.23" width="6.6" height="6.6" fill="#000"/>
<rect x="301.67" y="120.46" width="6.6" height="6.6" fill="#000"/>
<rect x="311.00" y="122.19" width="6.6" height="6.6" fill="#000"/>
<rect x="320.34" y="123.54" width="6.6" height="6.6" fill="#000"/>
<rect x="329.68" y="121.23" width="6.6" height="6.6" fill="#000"/>
<rect x="339.01" y="122.58" width="6.6" height="6.6" fill="#000"/>
<g transform="translate(286.40,85.50)" fill="#000"><path transform="rotate(0)" d="M-0.18,0L-0.78,-3.02A0.78,0.78 0 0 1 0.78,-3.02L0.18,0Z"/><path transform="rotate(60)" d="M-0.18,0L-0.78,-3.02A0.78,0.78 0 0 1 0.78,-3.02L0.18,0Z"/><path transform="rotate(120)" d="M-0.18,0L-0.78,-3.02A0.78,0.78 0 0 1 0.78,-3.02L0.18,0Z"/><path transform="rotate(180)" d="M-0.18,0L-0.78,-3.02A0.78,0.78 0 0 1 0.78,-3.02L0.18,0Z"/><path transform="rotate(240)" d="M-0.18,0L-0.78,-3.02A0.78,0.78 0 0 1 0.78,-3.02L0.18,0Z"/><path transform="rotate(300)" d="M-0.18,0L-0.78,-3.02A0.78,0.78 0 0 1 0.78,-3.02L0.18,0Z"/></g>
<g transform="translate(295.50,83.10)" fill="#000"><path transform="rotate(0)" d="M-0.18,0L-0.78,-3.02A0.78,0.78 0 0 1 0.78,-3.02L0.18,0Z"/><path transform="rotate(60)" d="M-0.18,0L-0.78,-3.02A0.78,0.78 0 0 1 0.78,-3.02L0.18,0Z"/><path transform="rotate(120)" d="M-0.18,0L-0.78,-3.02A0.78,0.78 0 0 1 0.78,-3.02L0.18,0Z"/><path transform="rotate(180)" d="M-0.18,0L-0.78,-3.02A0.78,0.78 0 0 1 0.78,-3.02L0.18,0Z"/><path transform="rotate(240)" d="M-0.18,0L-0.78,-3.02A0.78,0.78 0 0 1 0.78,-3.02L0.18,0Z"/><path transform="rotate(300)" d="M-0.18,0L-0.78,-3.02A0.78,0.78 0 0 1 0.78,-3.02L0.18,0Z"/></g>
<g transform="translate(304.50,82.70)" fill="#000"><path transform="rotate(0)" d="M-0.18,0L-0.78,-3.02A0.78,0.78 0 0 1 0.78,-3.02L0.18,0Z"/><path transform="rotate(60)" d="M-0.18,0L-0.78,-3.02A0.78,0.78 0 0 1 0.78,-3.02L0.18,0Z"/><path transform="rotate(120)" d="M-0.18,0L-0.78,-3.02A0.78,0.78 0 0 1 0.78,-3.02L0.18,0Z"/><path transform="rotate(180)" d="M-0.18,0L-0.78,-3.02A0.78,0.78 0 0 1 0.78,-3.02L0.18,0Z"/><path transform="rotate(240)" d="M-0.18,0L-0.78,-3.02A0.78,0.78 0 0 1 0.78,-3.02L0.18,0Z"/><path transform="rotate(300)" d="M-0.18,0L-0.78,-3.02A0.78,0.78 0 0 1 0.78,-3.02L0.18,0Z"/></g>
<g transform="translate(313.50,82.00)" fill="#000"><path transform="rotate(0)" d="M-0.18,0L-0.78,-3.02A0.78,0.78 0 0 1 0.78,-3.02L0.18,0Z"/><path transform="rotate(60)" d="M-0.18,0L-0.78,-3.02A0.78,0.78 0 0 1 0.78,-3.02L0.18,0Z"/><path transform="rotate(120)" d="M-0.18,0L-0.78,-3.02A0.78,0.78 0 0 1 0.78,-3.02L0.18,0Z"/><path transform="rotate(180)" d="M-0.18,0L-0.78,-3.02A0.78,0.78 0 0 1 0.78,-3.02L0.18,0Z"/><path transform="rotate(240)" d="M-0.18,0L-0.78,-3.02A0.78,0.78 0 0 1 0.78,-3.02L0.18,0Z"/><path transform="rotate(300)" d="M-0.18,0L-0.78,-3.02A0.78,0.78 0 0 1 0.78,-3.02L0.18,0Z"/></g>
<g transform="translate(323.10,80.10)" fill="#000"><path transform="rotate(0)" d="M-0.18,0L-0.78,-3.02A0.78,0.78 0 0 1 0.78,-3.02L0.18,0Z"/><path transform="rotate(60)" d="M-0.18,0L-0.78,-3.02A0.78,0.78 0 0 1 0.78,-3.02L0.18,0Z"/><path transform="rotate(120)" d="M-0.18,0L-0.78,-3.02A0.78,0.78 0 0 1 0.78,-3.02L0.18,0Z"/><path transform="rotate(180)" d="M-0.18,0L-0.78,-3.02A0.78,0.78 0 0 1 0.78,-3.02L0.18,0Z"/><path transform="rotate(240)" d="M-0.18,0L-0.78,-3.02A0.78,0.78 0 0 1 0.78,-3.02L0.18,0Z"/><path transform="rotate(300)" d="M-0.18,0L-0.78,-3.02A0.78,0.78 0 0 1 0.78,-3.02L0.18,0Z"/></g>
<g transform="translate(332.40,78.10)" fill="#000"><path transform="rotate(0)" d="M-0.18,0L-0.78,-3.02A0.78,0.78 0 0 1 0.78,-3.02L0.18,0Z"/><path transform="rotate(60)" d="M-0.18,0L-0.78,-3.02A0.78,0.78 0 0 1 0.78,-3.02L0.18,0Z"/><path transform="rotate(120)" d="M-0.18,0L-0.78,-3.02A0.78,0.78 0 0 1 0.78,-3.02L0.18,0Z"/><path transform="rotate(180)" d="M-0.18,0L-0.78,-3.02A0.78,0.78 0 0 1 0.78,-3.02L0.18,0Z"/><path transform="rotate(240)" d="M-0.18,0L-0.78,-3.02A0.78,0.78 0 0 1 0.78,-3.02L0.18,0Z"/><path transform="rotate(300)" d="M-0.18,0L-0.78,-3.02A0.78,0.78 0 0 1 0.78,-3.02L0.18,0Z"/></g>
<g transform="translate(341.80,77.10)" fill="#000"><path transform="rotate(0)" d="M-0.18,0L-0.78,-3.02A0.78,0.78 0 0 1 0.78,-3.02L0.18,0Z"/><path transform="rotate(60)" d="M-0.18,0L-0.78,-3.02A0.78,0.78 0 0 1 0.78,-3.02L0.18,0Z"/><path transform="rotate(120)" d="M-0.18,0L-0.78,-3.02A0.78,0.78 0 0 1 0.78,-3.02L0.18,0Z"/><path transform="rotate(180)" d="M-0.18,0L-0.78,-3.02A0.78,0.78 0 0 1 0.78,-3.02L0.18,0Z"/><path transform="rotate(240)" d="M-0.18,0L-0.78,-3.02A0.78,0.78 0 0 1 0.78,-3.02L0.18,0Z"/><path transform="rotate(300)" d="M-0.18,0L-0.78,-3.02A0.78,0.78 0 0 1 0.78,-3.02L0.18,0Z"/></g>
<line x1="184.00" y1="189.20" x2="203.50" y2="189.20" stroke="#222" stroke-width="0.8" />
<path d="M193.70,186.50L196.70,191.80H190.70Z" fill="#000"/>
<text x="211.00" y="192.70" font-size="11" text-anchor="start" fill="#000" >0</text>
<path d="M184.6,208.00h1M199.0,208.00h1" stroke="#000" stroke-width="1"/>
<circle cx="193.70" cy="208.00" r="2.9" fill="#fff" stroke="#000" stroke-width="0.9"/><circle cx="193.70" cy="208.00" r="0.7" fill="#000"/>
<text x="211.00" y="211.50" font-size="11" text-anchor="start" fill="#000" >0.003</text>
<line x1="184.00" y1="228.10" x2="203.50" y2="228.10" stroke="#222" stroke-width="0.8" />
<rect x="190.40" y="224.80" width="6.6" height="6.6" fill="#000"/>
<text x="211.00" y="231.60" font-size="11" text-anchor="start" fill="#000" >0.03</text>
<line x1="184.00" y1="247.70" x2="203.50" y2="247.70" stroke="#222" stroke-width="0.8" />
<rect x="191.20" y="245.20" width="5.0" height="5.0" fill="#fff" stroke="#000" stroke-width="0.8"/>
<text x="211.00" y="251.20" font-size="11" text-anchor="start" fill="#000" >0.1</text>
<line x1="245.80" y1="183.90" x2="245.80" y2="255.50" stroke="#333" stroke-width="0.9" />
<text transform="translate(259.4,219.3) rotate(-90)" font-size="11.5" text-anchor="middle">mg/kg S1P</text>
<line x1="420.20" y1="7.50" x2="420.20" y2="115.10" stroke="#000" stroke-width="1.5" />
<line x1="415.20" y1="114.50" x2="420.20" y2="114.50" stroke="#000" stroke-width="1.5" />
<text x="413.30" y="118.50" font-size="11" text-anchor="end" fill="#000" >50</text>
<line x1="415.20" y1="103.80" x2="420.20" y2="103.80" stroke="#000" stroke-width="1.5" />
<line x1="415.20" y1="93.10" x2="420.20" y2="93.10" stroke="#000" stroke-width="1.5" />
<text x="413.30" y="97.10" font-size="11" text-anchor="end" fill="#000" >60</text>
<line x1="415.20" y1="82.40" x2="420.20" y2="82.40" stroke="#000" stroke-width="1.5" />
<line x1="415.20" y1="71.70" x2="420.20" y2="71.70" stroke="#000" stroke-width="1.5" />
<text x="413.30" y="75.70" font-size="11" text-anchor="end" fill="#000" >70</text>
<line x1="415.20" y1="61.00" x2="420.20" y2="61.00" stroke="#000" stroke-width="1.5" />
<line x1="415.20" y1="50.30" x2="420.20" y2="50.30" stroke="#000" stroke-width="1.5" />
<text x="413.30" y="54.30" font-size="11" text-anchor="end" fill="#000" >80</text>
<line x1="415.20" y1="39.60" x2="420.20" y2="39.60" stroke="#000" stroke-width="1.5" />
<line x1="415.20" y1="28.90" x2="420.20" y2="28.90" stroke="#000" stroke-width="1.5" />
<text x="413.30" y="32.90" font-size="11" text-anchor="end" fill="#000" >90</text>
<line x1="415.20" y1="18.20" x2="420.20" y2="18.20" stroke="#000" stroke-width="1.5" />
<line x1="415.20" y1="7.50" x2="420.20" y2="7.50" stroke="#000" stroke-width="1.5" />
<text x="413.30" y="11.50" font-size="11" text-anchor="end" fill="#000" >100</text>
<line x1="419.60" y1="115.00" x2="614.70" y2="115.00" stroke="#000" stroke-width="1.5" />
<text transform="translate(390.8,60.7) rotate(-90)" font-size="11.5" text-anchor="middle">Mean MAP (mmHg)</text>
<text x="469.20" y="127.40" font-size="11.4" text-anchor="middle" fill="#000" >Resuscitation</text>
<text x="566.00" y="128.60" font-size="11" text-anchor="middle" fill="#000" >IVM</text>
<defs>
<pattern id="chk" x="0" y="0" width="6" height="6" patternUnits="userSpaceOnUse"><rect width="6" height="6" fill="#fff"/><rect width="3" height="3" fill="#000"/><rect x="3" y="3" width="3" height="3" fill="#000"/></pattern>
<pattern id="fine" x="0" y="0" width="3" height="3" patternUnits="userSpaceOnUse"><rect width="3" height="3" fill="#c0c0c0"/><rect width="1.5" height="1.5" fill="#000"/><rect x="1.5" y="1.5" width="1.5" height="1.5" fill="#000"/></pattern>
<pattern id="hatch" x="0" y="0" width="4.5" height="4.5" patternUnits="userSpaceOnUse" patternTransform="rotate(45)"><rect width="4.5" height="4.5" fill="#fff"/><rect width="0.75" height="4.5" fill="#000"/></pattern>
</defs>
<path d="M440.05,52.23V43.88M437.05,43.88h6" stroke="#000" stroke-width="1" fill="none"/>
<rect x="430.80" y="52.73" width="18.50" height="62.27" fill="#000" stroke="#000" stroke-width="1"/>
<path d="M459.45,53.94V47.73M456.45,47.73h6" stroke="#000" stroke-width="1" fill="none"/>
<rect x="450.20" y="54.44" width="18.50" height="60.56" fill="url(#chk)" stroke="#000" stroke-width="1"/>
<path d="M478.95,40.88V22.05M475.95,22.05h6" stroke="#000" stroke-width="1" fill="none"/>
<rect x="469.70" y="41.38" width="18.50" height="73.62" fill="url(#fine)" stroke="#000" stroke-width="1"/>
<path d="M498.35,43.24V35.53M495.35,35.53h6" stroke="#000" stroke-width="1" fill="none"/>
<rect x="489.10" y="43.74" width="18.50" height="71.26" fill="url(#hatch)" stroke="#000" stroke-width="1"/>
<path d="M536.95,75.98V69.13M533.95,69.13h6" stroke="#000" stroke-width="1" fill="none"/>
<rect x="527.70" y="76.48" width="18.50" height="38.52" fill="#000" stroke="#000" stroke-width="1"/>
<path d="M556.35,70.20V56.08M553.35,56.08h6" stroke="#000" stroke-width="1" fill="none"/>
<rect x="547.10" y="70.70" width="18.50" height="44.30" fill="url(#chk)" stroke="#000" stroke-width="1"/>
<path d="M575.75,66.14V58.43M572.75,58.43h6" stroke="#000" stroke-width="1" fill="none"/>
<rect x="566.50" y="66.64" width="18.50" height="48.36" fill="url(#fine)" stroke="#000" stroke-width="1"/>
<path d="M595.75,37.03V30.18M592.75,30.18h6" stroke="#000" stroke-width="1" fill="none"/>
<rect x="586.50" y="37.53" width="18.50" height="77.47" fill="url(#hatch)" stroke="#000" stroke-width="1"/>
<path d="M537.5,66.4V17.2H595.8V22.9" stroke="#000" stroke-width="0.9" fill="none"/>
<g transform="translate(566.30,10.20)" fill="#000"><path transform="rotate(0)" d="M-0.18,0L-0.78,-3.02A0.78,0.78 0 0 1 0.78,-3.02L0.18,0Z"/><path transform="rotate(60)" d="M-0.18,0L-0.78,-3.02A0.78,0.78 0 0 1 0.78,-3.02L0.18,0Z"/><path transform="rotate(120)" d="M-0.18,0L-0.78,-3.02A0.78,0.78 0 0 1 0.78,-3.02L0.18,0Z"/><path transform="rotate(180)" d="M-0.18,0L-0.78,-3.02A0.78,0.78 0 0 1 0.78,-3.02L0.18,0Z"/><path transform="rotate(240)" d="M-0.18,0L-0.78,-3.02A0.78,0.78 0 0 1 0.78,-3.02L0.18,0Z"/><path transform="rotate(300)" d="M-0.18,0L-0.78,-3.02A0.78,0.78 0 0 1 0.78,-3.02L0.18,0Z"/></g>
<text x="649.20" y="26.90" font-size="11.5" text-anchor="middle" fill="#000" >S1P dose</text>
<text x="648.90" y="41.50" font-size="11.5" text-anchor="middle" fill="#000" >(mg/kg)</text>
<rect x="628.9" y="51.70" width="7.2" height="7.4" fill="#000" stroke="#000" stroke-width="0.9"/>
<text x="643.40" y="58.60" font-size="11" text-anchor="start" fill="#000" >0</text>
<rect x="628.9" y="71.20" width="7.2" height="7.4" fill="url(#chk)" stroke="#000" stroke-width="0.9"/>
<text x="643.40" y="78.10" font-size="11" text-anchor="start" fill="#000" >0.003</text>
<rect x="628.9" y="90.20" width="7.2" height="7.4" fill="url(#fine)" stroke="#000" stroke-width="0.9"/>
<text x="643.40" y="97.10" font-size="11" text-anchor="start" fill="#000" >0.03</text>
<rect x="628.9" y="109.30" width="7.2" height="7.4" fill="url(#hatch)" stroke="#000" stroke-width="0.9"/>
<text x="643.40" y="116.20" font-size="11" text-anchor="start" fill="#000" >0.1</text>
<line x1="427.00" y1="158.30" x2="427.00" y2="258.50" stroke="#000" stroke-width="1.5" />
<line x1="422.00" y1="258.50" x2="427.00" y2="258.50" stroke="#000" stroke-width="1.5" />
<text x="419.60" y="262.90" font-size="11" text-anchor="end" fill="#000" >0</text>
<line x1="422.00" y1="250.15" x2="427.00" y2="250.15" stroke="#000" stroke-width="1.5" />
<line x1="422.00" y1="241.80" x2="427.00" y2="241.80" stroke="#000" stroke-width="1.5" />
<text x="419.60" y="246.20" font-size="11" text-anchor="end" fill="#000" >200</text>
<line x1="422.00" y1="233.45" x2="427.00" y2="233.45" stroke="#000" stroke-width="1.5" />
<line x1="422.00" y1="225.10" x2="427.00" y2="225.10" stroke="#000" stroke-width="1.5" />
<text x="419.60" y="229.50" font-size="11" text-anchor="end" fill="#000" >400</text>
<line x1="422.00" y1="216.75" x2="427.00" y2="216.75" stroke="#000" stroke-width="1.5" />
<line x1="422.00" y1="208.40" x2="427.00" y2="208.40" stroke="#000" stroke-width="1.5" />
<text x="419.60" y="212.80" font-size="11" text-anchor="end" fill="#000" >600</text>
<line x1="422.00" y1="200.05" x2="427.00" y2="200.05" stroke="#000" stroke-width="1.5" />
<line x1="422.00" y1="191.70" x2="427.00" y2="191.70" stroke="#000" stroke-width="1.5" />
<text x="419.60" y="196.10" font-size="11" text-anchor="end" fill="#000" >800</text>
<line x1="422.00" y1="183.35" x2="427.00" y2="183.35" stroke="#000" stroke-width="1.5" />
<line x1="422.00" y1="175.00" x2="427.00" y2="175.00" stroke="#000" stroke-width="1.5" />
<text x="419.60" y="179.40" font-size="11" text-anchor="end" fill="#000" >1000</text>
<line x1="422.00" y1="166.65" x2="427.00" y2="166.65" stroke="#000" stroke-width="1.5" />
<line x1="422.00" y1="158.30" x2="427.00" y2="158.30" stroke="#000" stroke-width="1.5" />
<text x="419.60" y="162.70" font-size="11" text-anchor="end" fill="#000" >1200</text>
<line x1="422.30" y1="259.60" x2="520.30" y2="259.60" stroke="#000" stroke-width="1.7" />
<path d="M438.80,169.74V157.88M435.30,157.88h7" stroke="#333" stroke-width="1" fill="none"/>
<rect x="430.65" y="169.74" width="16.30" height="89.86" fill="#000" stroke="none" stroke-width="0" />
<line x1="438.80" y1="259.60" x2="438.80" y2="264.50" stroke="#000" stroke-width="1.5" />
<text transform="translate(445.40,271.20) rotate(-45)" font-size="11" text-anchor="end">0</text>
<path d="M462.30,180.43V175.17M458.80,175.17h7" stroke="#333" stroke-width="1" fill="none"/>
<rect x="454.15" y="180.43" width="16.30" height="79.17" fill="#000" stroke="none" stroke-width="0" />
<line x1="462.30" y1="259.60" x2="462.30" y2="264.50" stroke="#000" stroke-width="1.5" />
<text transform="translate(466.20,271.20) rotate(-45)" font-size="11" text-anchor="end">0.003</text>
<path d="M485.50,200.05V183.93M482.00,183.93h7" stroke="#333" stroke-width="1" fill="none"/>
<rect x="477.35" y="200.05" width="16.30" height="59.55" fill="#000" stroke="none" stroke-width="0" />
<line x1="485.50" y1="259.60" x2="485.50" y2="264.50" stroke="#000" stroke-width="1.5" />
<text transform="translate(490.10,271.20) rotate(-45)" font-size="11" text-anchor="end">0.03</text>
<path d="M508.80,213.74V208.57M505.30,208.57h7" stroke="#333" stroke-width="1" fill="none"/>
<rect x="500.65" y="213.74" width="16.30" height="45.86" fill="#000" stroke="none" stroke-width="0" />
<line x1="508.80" y1="259.60" x2="508.80" y2="264.50" stroke="#000" stroke-width="1.5" />
<text transform="translate(513.70,271.40) rotate(-45)" font-size="11" text-anchor="end">0.1</text>
<text x="472.60" y="302.20" font-size="11" text-anchor="middle" fill="#000" >S1P dose (mg/kg)</text>
<text transform="translate(377.3,208.3) rotate(-90)" font-size="11.5" text-anchor="middle">FITC-Albumin</text>
<text transform="translate(392.0,208.4) rotate(-90)" font-size="11.5" text-anchor="middle">Extravasation (IOI)</text>
<path d="M438.6,157V149.2H508.8V202.8" stroke="#000" stroke-width="0.9" fill="none"/>
<g transform="translate(473.60,142.30)" fill="#000"><path transform="rotate(0)" d="M-0.18,0L-0.78,-3.02A0.78,0.78 0 0 1 0.78,-3.02L0.18,0Z"/><path transform="rotate(60)" d="M-0.18,0L-0.78,-3.02A0.78,0.78 0 0 1 0.78,-3.02L0.18,0Z"/><path transform="rotate(120)" d="M-0.18,0L-0.78,-3.02A0.78,0.78 0 0 1 0.78,-3.02L0.18,0Z"/><path transform="rotate(180)" d="M-0.18,0L-0.78,-3.02A0.78,0.78 0 0 1 0.78,-3.02L0.18,0Z"/><path transform="rotate(240)" d="M-0.18,0L-0.78,-3.02A0.78,0.78 0 0 1 0.78,-3.02L0.18,0Z"/><path transform="rotate(300)" d="M-0.18,0L-0.78,-3.02A0.78,0.78 0 0 1 0.78,-3.02L0.18,0Z"/></g>
<line x1="581.00" y1="159.00" x2="581.00" y2="258.40" stroke="#000" stroke-width="1.5" />
<line x1="575.80" y1="258.40" x2="581.00" y2="258.40" stroke="#000" stroke-width="1.5" />
<text x="573.60" y="262.40" font-size="11" text-anchor="end" fill="#000" >0</text>
<line x1="575.80" y1="244.20" x2="581.00" y2="244.20" stroke="#000" stroke-width="1.5" />
<line x1="575.80" y1="230.00" x2="581.00" y2="230.00" stroke="#000" stroke-width="1.5" />
<text x="573.60" y="234.00" font-size="11" text-anchor="end" fill="#000" >10</text>
<line x1="575.80" y1="215.80" x2="581.00" y2="215.80" stroke="#000" stroke-width="1.5" />
<line x1="575.80" y1="201.60" x2="581.00" y2="201.60" stroke="#000" stroke-width="1.5" />
<text x="573.60" y="205.60" font-size="11" text-anchor="end" fill="#000" >20</text>
<line x1="575.80" y1="187.40" x2="581.00" y2="187.40" stroke="#000" stroke-width="1.5" />
<line x1="575.80" y1="173.20" x2="581.00" y2="173.20" stroke="#000" stroke-width="1.5" />
<text x="573.60" y="177.20" font-size="11" text-anchor="end" fill="#000" >30</text>
<line x1="575.80" y1="159.00" x2="581.00" y2="159.00" stroke="#000" stroke-width="1.5" />
<line x1="576.50" y1="259.60" x2="673.50" y2="259.60" stroke="#000" stroke-width="1.7" />
<path d="M592.30,170.64V166.95M588.80,166.95h7" stroke="#000" stroke-width="1" fill="none"/>
<rect x="584.15" y="170.64" width="16.30" height="88.96" fill="#000" stroke="none" stroke-width="0" />
<line x1="592.30" y1="259.60" x2="592.30" y2="264.50" stroke="#000" stroke-width="1.5" />
<text transform="translate(598.90,271.20) rotate(-45)" font-size="11" text-anchor="end">0</text>
<path d="M615.60,167.80V167.24M612.10,167.24h7" stroke="#000" stroke-width="1" fill="none"/>
<rect x="607.45" y="167.80" width="16.30" height="91.80" fill="#000" stroke="none" stroke-width="0" />
<line x1="615.60" y1="259.60" x2="615.60" y2="264.50" stroke="#000" stroke-width="1.5" />
<text transform="translate(619.50,271.20) rotate(-45)" font-size="11" text-anchor="end">0.003</text>
<path d="M639.00,168.94V168.09M635.50,168.09h7" stroke="#000" stroke-width="1" fill="none"/>
<rect x="630.85" y="168.94" width="16.30" height="90.66" fill="#000" stroke="none" stroke-width="0" />
<line x1="639.00" y1="259.60" x2="639.00" y2="264.50" stroke="#000" stroke-width="1.5" />
<text transform="translate(643.60,271.20) rotate(-45)" font-size="11" text-anchor="end">0.03</text>
<path d="M662.20,168.94V165.82M658.70,165.82h7" stroke="#000" stroke-width="1" fill="none"/>
<rect x="654.05" y="168.94" width="16.30" height="90.66" fill="#000" stroke="none" stroke-width="0" />
<line x1="662.20" y1="259.60" x2="662.20" y2="264.50" stroke="#000" stroke-width="1.5" />
<text transform="translate(667.10,271.40) rotate(-45)" font-size="11" text-anchor="end">0.1</text>
<text x="625.50" y="302.20" font-size="11" text-anchor="middle" fill="#000" >S1P dose (mg/kg)</text>
<text transform="translate(542.3,211.6) rotate(-90)" font-size="11.8" text-anchor="middle">Mean Arteriolar</text>
<text transform="translate(556.5,212.1) rotate(-90)" font-size="11.5" text-anchor="middle">Diameter (μm)</text>
</svg></body></html>
